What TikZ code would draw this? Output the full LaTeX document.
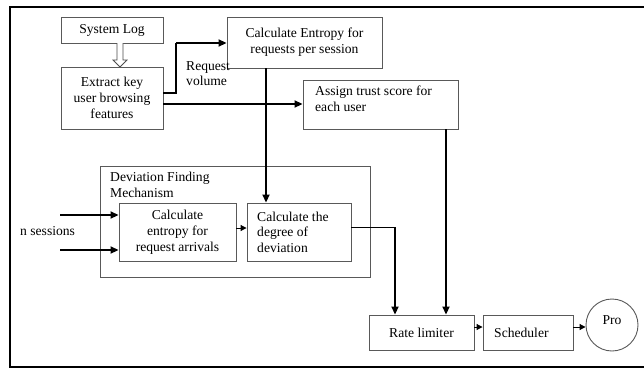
\documentclass[tikz,border=0pt]{standalone}
\usepackage{fontspec}
\setmainfont{Liberation Serif}
\usetikzlibrary{arrows.meta}
\begin{document}
\begin{tikzpicture}[x=1pt,y=-1pt,
  box/.style={draw=black!65,line width=0.9pt,rectangle,inner sep=0pt,font=\fontsize{13.6}{16}\selectfont},
  lbl/.style={inner sep=0pt,font=\fontsize{13.6}{15.5}\selectfont,align=left},
  conn/.style={line width=1.8pt,-{Triangle[length=8pt,width=7pt]}},
  smallconn/.style={line width=1pt,-{Triangle[length=6pt,width=6pt]}},
  thinconn/.style={line width=0.9pt},
  frame/.style={line width=2.6pt,black}]
\useasboundingbox (0,0) rectangle (644,370);
\fill[white] (0,0) rectangle (644,370);
% outer frame
\draw[frame] (644,7) -- (10,7) -- (10,367) -- (644,367);
% nodes
\node[box,minimum width=102pt,minimum height=26pt,align=center] (syslog) at (112,30) {System Log};
\node[box,minimum width=102pt,minimum height=62pt,align=center] (extract) at (112,98) {Extract key\\user browsing\\features};
\node[box,minimum width=155pt,minimum height=51pt,align=center] (calcent) at (304.5,42.5) {Calculate Entropy for\\requests per session};
\node[box,minimum width=155pt,minimum height=49pt] (assign) at (380.5,104.5) {};
\node[lbl,anchor=north west] (assigntxt) at (315,86) {Assign trust score for\\each user};
\node[box,minimum width=270pt,minimum height=111pt] (devframe) at (235,221.5) {};
\node[lbl,anchor=north west] (devlbl) at (110,172) {Deviation Finding\\Mechanism};
\node[box,minimum width=117pt,minimum height=58pt,align=center] (calcarr) at (177.5,232) {Calculate\\entropy for\\request arrivals};
\node[box,minimum width=104pt,minimum height=58pt] (calcdev) at (299,232) {};
\node[lbl,anchor=west] (calcdevtxt) at (257,232) {Calculate the\\degree of\\deviation};
\node[box,minimum width=105pt,minimum height=35pt,align=center] (rate) at (421.5,332.5) {Rate limiter};
\node[box,minimum width=90pt,minimum height=35pt] (sched) at (528,332.5) {};
\node[lbl,anchor=west] (schedtxt) at (494,332.5) {Scheduler};
\node[draw=black!65,line width=0.9pt,circle,minimum size=52pt,inner sep=0pt] (pro) at (612,325) {};
\node[lbl] (protxt) at (612,320) {Pro};
\node[lbl,anchor=north west] (reqvol) at (186,61) {Request\\volume};
\node[lbl,anchor=west] (nsess) at (20,231) {n sessions};
% coordinates
\coordinate (in1) at (60,215);
\coordinate (in2) at (60,250);
\coordinate (bend1) at (176,93);
\coordinate (bend2) at (176,43);
\coordinate (devout) at (395,227);
% hollow arrow
\draw[black!70,line width=0.8pt,fill=white] (117,43) -- (117,60) -- (113,60) -- (120,67) -- (127,60) -- (123,60) -- (123,43);
% connectors
\draw[line width=1.8pt] (extract.east|-bend1) -- (bend1) -- (bend2);
\draw[conn] (bend2) -- (calcent.west|-bend2);
\draw[conn] (extract.east|-0,104) -- (assign.west|-0,104);
\draw[conn] (calcent.south-|266,0) -- (calcdev.north-|266,0);
\draw[conn] (assign.south-|446,0) -- (rate.north-|446,0);
\draw[thinconn] (calcdev.east|-devout) -- (devout);
\draw[conn] (devout) -- (rate.north-|devout);
\draw[smallconn] (calcarr.east|-0,228) -- (calcdev.west|-0,228);
\draw[conn] (in1) -- (calcarr.west|-in1);
\draw[conn] (in2) -- (calcarr.west|-in2);
\draw[smallconn] (rate.east|-0,327) -- (sched.west|-0,327);
\draw[smallconn] (sched.east|-0,327) -- (pro.west|-0,327);
\end{tikzpicture}
\end{document}
